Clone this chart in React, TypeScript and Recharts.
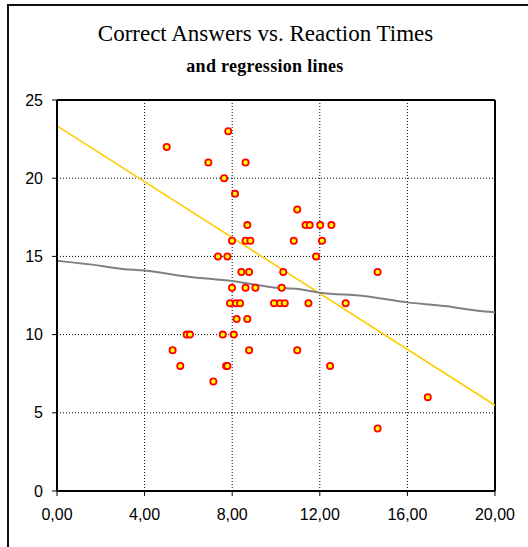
import React from "react";
import {
  ComposedChart,
  XAxis,
  YAxis,
  CartesianGrid,
  Scatter,
  Line,
  ReferenceLine,
} from "recharts";

const reactionTimes = [
  7.82, 5.01, 6.91, 8.61, 7.63, 8.13, 10.97,
  8.69, 11.35, 11.54, 12.02, 12.53,
  7.99, 8.61, 8.83, 10.81, 12.1,
  7.35, 7.78, 11.83,
  8.42, 8.77, 10.33, 14.64,
  7.99, 8.61, 9.06, 10.26,
  7.9, 8.17, 8.36, 9.91, 10.18, 10.4, 11.48, 13.18,
  8.2, 8.69,
  5.92, 6.07, 7.57, 8.07,
  5.28, 8.77, 10.97,
  5.63, 7.72, 7.78, 12.47,
  7.14, 16.93, 14.64,
];

const correctAnswers = [
  23, 22, 21, 21, 20, 19, 18,
  17, 17, 17, 17, 17,
  16, 16, 16, 16, 16,
  15, 15, 15,
  14, 14, 14, 14,
  13, 13, 13, 13,
  12, 12, 12, 12, 12, 12, 12, 12,
  11, 11,
  10, 10, 10, 10,
  9, 9, 9,
  8, 8, 8, 8,
  7, 6, 4,
];

const linearX = [0, 20];
const linearY = [23.35, 5.48];

const smoothX = [0, 1.5, 3, 4, 6, 8, 10, 11, 12, 14, 16, 17.7, 19.2, 20];
const smoothY = [14.73, 14.49, 14.2, 14.1, 13.7, 13.42, 13.0, 12.92, 12.68, 12.47, 12.06, 11.83, 11.53, 11.43];

const xTicks = [0, 4, 8, 12, 16, 20];
const yTicks = [0, 5, 10, 15, 20, 25];

const titleText = "Correct Answers vs. Reaction Times";
const subtitleText = "and regression lines";

const points = reactionTimes.map((x, i) => ({ x, y: correctAnswers[i] }));
const linearData = linearX.map((x, i) => ({ x, y: linearY[i] }));
const smoothData = smoothX.map((x, i) => ({ x, y: smoothY[i] }));

const Dot = (props: any) => {
  const { cx, cy } = props;
  if (cx == null || cy == null) return null;
  return (
    <circle cx={cx} cy={cy} r={3.1} fill="#FFFF00" stroke="#FF0000" strokeWidth={1.8} />
  );
};

const tickStyle = { fontFamily: "'Liberation Sans', Arial, sans-serif", fontSize: 16, fill: "#000" };

export default function App() {
  return (
    <div style={{ position: "absolute", left: 0, top: 0, width: 528, height: 547, background: "#fff", overflow: "hidden" }}>
      <svg width={528} height={547} style={{ position: "absolute", left: 0, top: 0 }}>
        <path d="M8,547 L8,5 L528,5" fill="none" stroke="#111" strokeWidth={2} />
        <text
          x={265.5}
          y={41}
          textAnchor="middle"
          style={{ fontFamily: "'Liberation Serif', 'Times New Roman', serif", fontSize: 23, fill: "#000" }}
        >
          {titleText}
        </text>
        <text
          x={265}
          y={71.5}
          textAnchor="middle"
          style={{ fontFamily: "'Liberation Serif', 'Times New Roman', serif", fontSize: 18, fontWeight: "bold", letterSpacing: 0.3, fill: "#000" }}
        >
          {subtitleText}
        </text>
      </svg>
      <div style={{ position: "absolute", left: 0, top: 0 }}>
        <ComposedChart
          width={528}
          height={547}
          margin={{ top: 100, right: 33, bottom: 0, left: 0 }}
        >
          <CartesianGrid
            stroke="#000"
            strokeDasharray="1 2"
            strokeWidth={1}
            horizontalValues={yTicks}
            verticalValues={xTicks}
          />
          <XAxis
            type="number"
            dataKey="x"
            domain={[0, 20]}
            ticks={xTicks}
            allowDataOverflow
            height={56}
            tickSize={5}
            tickMargin={13}
            tick={tickStyle}
            tickFormatter={(v: number) => v.toFixed(2).replace(".", ",")}
            axisLine={{ stroke: "#000", strokeWidth: 2 }}
            tickLine={{ stroke: "#000", strokeWidth: 1 }}
          />
          <YAxis
            type="number"
            dataKey="y"
            domain={[0, 25]}
            ticks={yTicks}
            allowDataOverflow
            width={57}
            tickSize={5}
            tickMargin={9}
            tick={tickStyle}
            axisLine={{ stroke: "#000", strokeWidth: 2 }}
            tickLine={{ stroke: "#000", strokeWidth: 1 }}
          />
          <ReferenceLine y={25} stroke="#000" strokeWidth={2} />
          <ReferenceLine x={20} stroke="#000" strokeWidth={2} />
          <Line
            data={linearData}
            dataKey="y"
            type="linear"
            stroke="#FFCC00"
            strokeWidth={1.6}
            dot={false}
            activeDot={false}
            isAnimationActive={false}
          />
          <Line
            data={smoothData}
            dataKey="y"
            type="monotone"
            stroke="#808080"
            strokeWidth={2}
            dot={false}
            activeDot={false}
            isAnimationActive={false}
          />
          <Scatter data={points} shape={Dot} isAnimationActive={false} />
        </ComposedChart>
      </div>
    </div>
  );
}
